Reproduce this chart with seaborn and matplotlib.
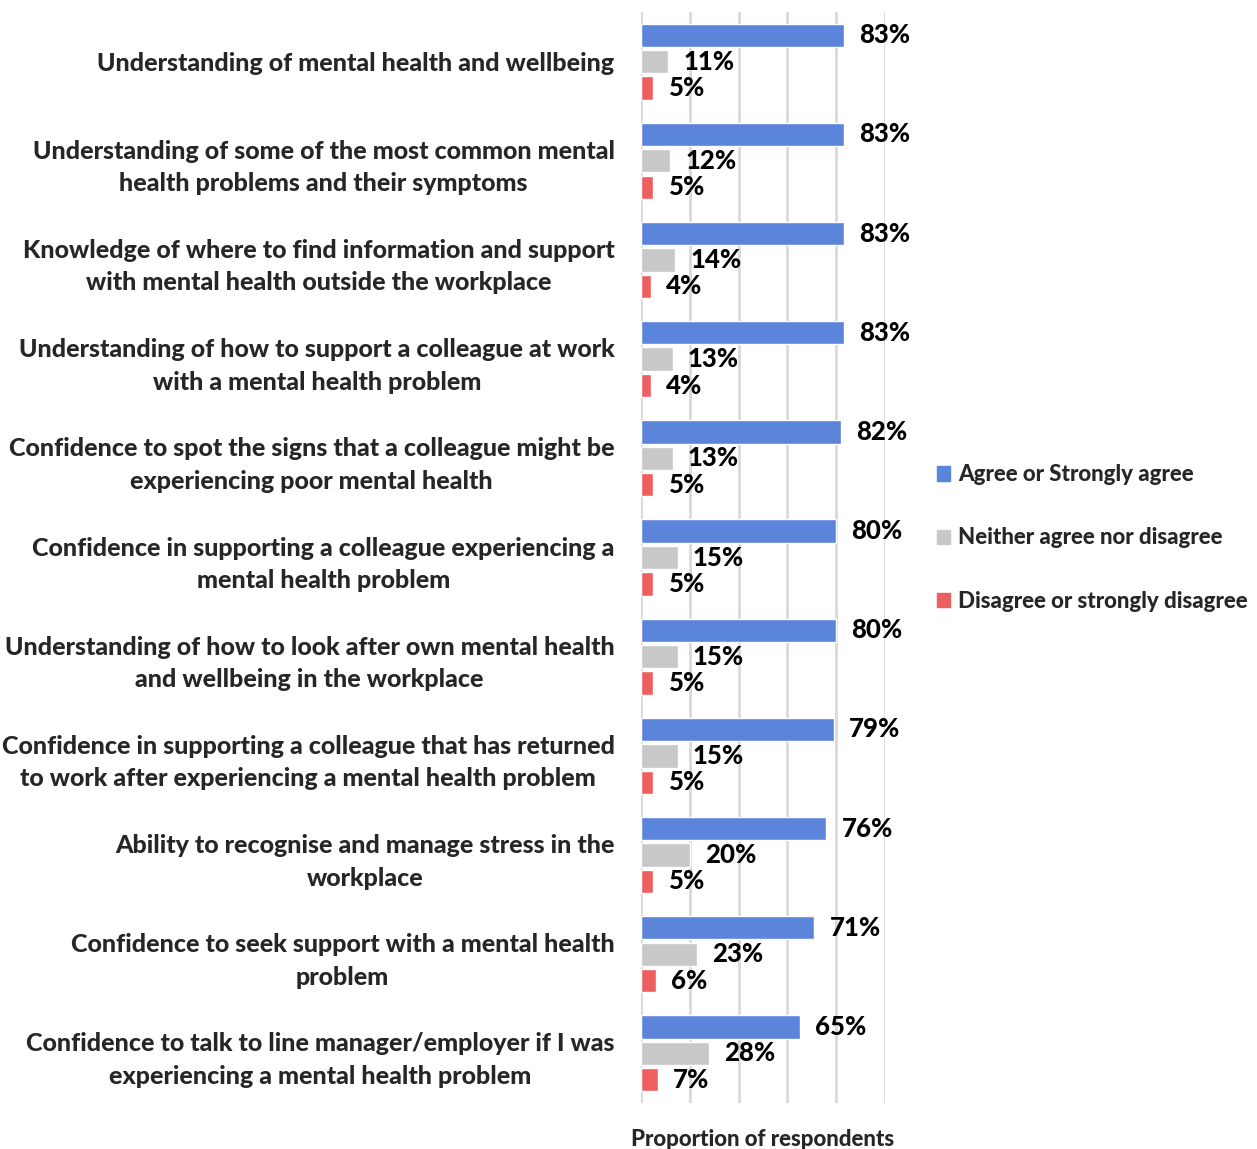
import matplotlib
matplotlib.use("Agg")
import matplotlib.pyplot as plt
import seaborn as sns
import pandas as pd

categories = [
    "Understanding of mental health and wellbeing",
    "Understanding of some of the most common mental\nhealth problems and their symptoms",
    "Knowledge of where to find information and support\nwith mental health outside the workplace",
    "Understanding of how to support a colleague at work\nwith a mental health problem",
    "Confidence to spot the signs that a colleague might be\nexperiencing poor mental health",
    "Confidence in supporting a colleague experiencing a\nmental health problem",
    "Understanding of how to look after own mental health\nand wellbeing in the workplace",
    "Confidence in supporting a colleague that has returned\nto work after experiencing a mental health problem",
    "Ability to recognise and manage stress in the\nworkplace",
    "Confidence to seek support with a mental health\nproblem",
    "Confidence to talk to line manager/employer if I was\nexperiencing a mental health problem",
]
series = ["Agree or Strongly agree", "Neither agree nor disagree", "Disagree or strongly disagree"]
agree = [83, 83, 83, 83, 82, 80, 80, 79, 76, 71, 65]
neither = [11, 12, 14, 13, 13, 15, 15, 15, 20, 23, 28]
disagree = [5, 5, 4, 4, 5, 5, 5, 5, 5, 6, 7]
colors = ["#5B84DB", "#C8C8C8", "#EE5F5F"]

sns.set_theme(style="white")
plt.rcParams["font.family"] = ["Lato", "DejaVu Sans"]
plt.rcParams["font.weight"] = "black"

rows = []
for s, vals in zip(series, [agree, neither, disagree]):
    for c, v in zip(categories, vals):
        rows.append({"category": c, "series": s, "value": v})
df = pd.DataFrame(rows)

fig = plt.figure(figsize=(12.57, 11.49), dpi=100)
ax = fig.add_axes([641 / 1257, 1 - 1103 / 1149, 244 / 1257, (1103 - 12) / 1149])

sns.barplot(data=df, y="category", x="value", hue="series", order=categories,
            hue_order=series, palette=colors, orient="h", width=0.8, gap=0.12,
            ax=ax, legend=False, saturation=1)

for cont, vals in zip(ax.containers, [agree, neither, disagree]):
    ax.bar_label(cont, labels=[f"{v}%" for v in vals], padding=11,
                 fontsize=18.5, fontweight="black", color="black")

ax.set_xlim(0, 100)
ax.set_ylim(10.5, -0.5)
ax.set_xticks([0, 20, 40, 60, 80, 100])
ax.set_xticklabels([])
ax.grid(axis="x", color="#D9D9D9", linewidth=2)
ax.grid(axis="y", visible=False)
ax.set_axisbelow(True)
for sp in ax.spines.values():
    sp.set_visible(False)
ax.tick_params(axis="y", length=0, pad=19)
ax.tick_params(axis="x", length=0)
ax.set_yticks(range(len(categories)))
ax.set_yticklabels(categories, fontsize=18, fontweight="black",
                   multialignment="center", linespacing=1.5)
ax.set_ylabel("")
ax.set_xlabel("Proportion of respondents", fontsize=16, fontweight="black", labelpad=15)

handles = [plt.Rectangle((0, 0), 1, 1, color=c) for c in colors]
fig.legend(handles, series, loc="center left", bbox_to_anchor=(917 / 1257, 1 - 538 / 1149),
           frameon=False, prop={"weight": "black", "size": 16},
           handlelength=0.6, handleheight=0.6, handletextpad=0.35, labelspacing=1.9)

fig.savefig("out.png", dpi=100)
